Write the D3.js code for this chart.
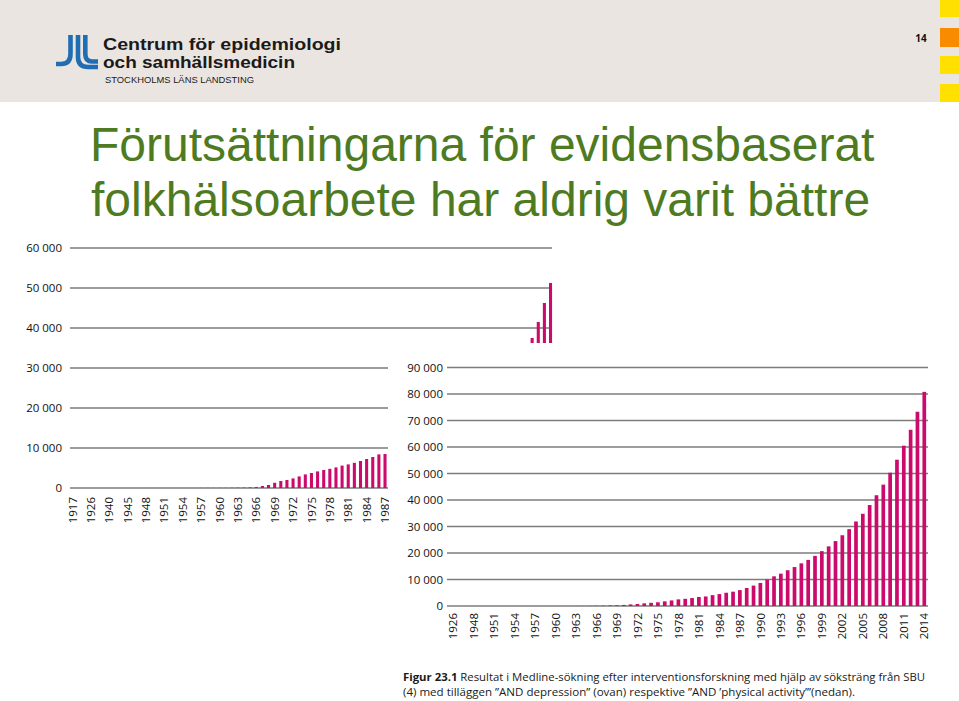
<!DOCTYPE html>
<html>
<head>
<meta charset="utf-8">
<script src="https://cdn.jsdelivr.net/npm/d3@7"></script>
<style>
  body { margin: 0; background: #fff; }
  svg { display: block; }
  .tick-label { font-family: "Open Sans", sans-serif; font-size: 11.5px; fill: #111; }
</style>
</head>
<body>
<svg id="slide" width="959" height="701"></svg>
<script>
// ---- data ----
// upper chart: "AND depression"
const topYears = [1917, 1920, 1923, 1926, 1930, 1935, 1940, 1942, 1944].concat(d3.range(1945, 2015));
const topValues = [
  1, 1, 1, 2, 2, 2, 3, 3, 4,
  5, 5, 6, 6, 8, 8, 10, 10, 12, 12, 15, 15, 20, 20, 25, 30, 35, 50,
  80, 100, 150, 250, 500, 750, 1300, 1750, 2000, 2400, 2900, 3400, 3750, 4150, 4500,
  4800, 5150, 5600, 5900, 6300, 6750, 7250, 7750, 8400, 8500,
  9000, 9500, 10100, 10700, 11300, 12000, 12800, 13600, 14500, 15400, 16300, 17300, 18400,
  19600, 20900, 22300, 23800, 25400, 27100, 29000, 31000, 33000, 35200, 37500, 41500, 46250, 51250
];
const topTicks = [0, 10000, 20000, 30000, 40000, 50000, 60000];
const topLabelYears = [1917, 1926, 1940, 1945, 1948, 1951, 1954, 1957, 1960, 1963, 1966,
  1969, 1972, 1975, 1978, 1981, 1984, 1987];

// lower chart: "AND 'physical activity'"
const bottomYears = [1926, 1946, 1947].concat(d3.range(1948, 2015));
const bottomValues = [
  1, 2, 3,
  3, 4, 4, 5, 5, 6, 6, 8, 8, 10, 10, 12, 15, 18, 20, 25,
  30, 50, 80, 120, 200, 250, 400, 600, 750, 1000, 1200, 1400, 1750, 2100, 2500, 2700,
  3000, 3400, 3600, 4100, 4500, 5000, 5400, 6000, 6800, 7700, 8700,
  10000, 11200, 12200, 13500, 14700, 16100, 17400, 18900, 20700, 22500, 24500, 26700,
  29000, 31900, 34800, 38100, 41800, 45800, 50300, 55200, 60500, 66500, 73300, 80800
];
const bottomTicks = [0, 10000, 20000, 30000, 40000, 50000, 60000, 70000, 80000, 90000];
const bottomLabelYears = [1926, 1948, 1951, 1954, 1957, 1960, 1963, 1966, 1969, 1972, 1975,
  1978, 1981, 1984, 1987, 1990, 1993, 1996, 1999, 2002, 2005, 2008, 2011, 2014];

const barColor = '#cc0a6c';
const gridColor = '#7d7d7d';
const fmt = d3.formatLocale({ decimal: ',', thousands: ' ', grouping: [3], currency: ['', ''] }).format(',d');

const svg = d3.select('#slide');

// ---- header band ----
svg.append('rect').attr('x', 0).attr('y', 0).attr('width', 959).attr('height', 102).attr('fill', '#ebe5e1');

const logo = svg.append('g').attr('fill', 'none').attr('stroke', '#1f6db2').attr('stroke-width', 4.6);
logo.append('path').attr('d', 'M70.5 35 V54 Q70.5 64 61 64 H56');
logo.append('path').attr('d', 'M78 35 V57 Q78 67 88 67 H98');
logo.append('path').attr('d', 'M85.3 35 V54 Q85.3 61.5 92 61.5 H98');

const logoFont = '"Liberation Sans", Arial, sans-serif';
svg.append('text').attr('x', 103).attr('y', 50)
  .attr('textLength', 238).attr('lengthAdjust', 'spacingAndGlyphs')
  .style('font-family', logoFont).style('font-weight', 700).style('font-size', '16px')
  .attr('fill', '#1a1a1a').text('Centrum för epidemiologi');
svg.append('text').attr('x', 103).attr('y', 68)
  .attr('textLength', 192).attr('lengthAdjust', 'spacingAndGlyphs')
  .style('font-family', logoFont).style('font-weight', 700).style('font-size', '16px')
  .attr('fill', '#1a1a1a').text('och samhällsmedicin');
svg.append('text').attr('x', 105).attr('y', 83)
  .attr('textLength', 149).attr('lengthAdjust', 'spacingAndGlyphs')
  .style('font-family', logoFont).style('font-size', '9px')
  .attr('fill', '#1a1a1a').text('STOCKHOLMS LÄNS LANDSTING');

svg.append('text').attr('x', 921).attr('y', 42).attr('text-anchor', 'middle')
  .style('font-family', '"Open Sans", sans-serif').style('font-weight', 700).style('font-size', '10px')
  .attr('fill', '#111').text('14');

// side squares
[[0, 17, '#ffe000'], [28, 19, '#f98b00'], [56, 18, '#ffe000'], [84, 18, '#ffe000']].forEach(s => {
  svg.append('rect').attr('x', 940).attr('y', s[0]).attr('width', 19).attr('height', s[1]).attr('fill', s[2]);
});

// ---- title ----
const title = svg.append('g').style('font-family', '"Liberation Sans", Arial, sans-serif')
  .style('font-size', '48px').attr('fill', '#4e7b22');
title.append('text').attr('x', 90).attr('y', 161).text('Förutsättningarna för evidensbaserat');
title.append('text').attr('x', 91).attr('y', 216).text('folkhälsoarbete har aldrig varit bättre');

// ---- upper chart ----
const topChart = svg.append('g');
const xTop = d3.scaleBand().domain(topYears).range([69.3, 553.6]).paddingInner(0.5).paddingOuter(0.25);
const yTop = d3.scaleLinear().domain([0, 60000]).range([488, 248]);

topChart.selectAll('.grid').data(topTicks).enter().append('line')
  .attr('class', 'grid')
  .attr('x1', 70).attr('x2', d => d > 30000 ? 552 : 388)
  .attr('y1', d => yTop(d)).attr('y2', d => yTop(d))
  .attr('stroke', gridColor).attr('stroke-width', 1.4);

topChart.selectAll('.ylab').data(topTicks).enter().append('text')
  .attr('class', 'tick-label ylab')
  .attr('x', 62).attr('y', d => yTop(d)).attr('dy', '0.35em').attr('text-anchor', 'end')
  .text(d => fmt(d));

topChart.selectAll('.bar').data(topYears).enter().append('rect')
  .attr('class', 'bar')
  .attr('x', d => xTop(d)).attr('width', xTop.bandwidth())
  .attr('y', (d, i) => yTop(topValues[i]))
  .attr('height', (d, i) => yTop(0) - yTop(topValues[i]))
  .attr('fill', barColor);

const xAxisTop = topChart.append('g').attr('transform', 'translate(0,488)')
  .call(d3.axisBottom(xTop).tickValues(topLabelYears).tickSize(0));
xAxisTop.select('.domain').remove();
xAxisTop.selectAll('text')
  .attr('class', 'tick-label')
  .attr('transform', 'rotate(-90)')
  .attr('x', -9).attr('y', 0).attr('dy', '0.36em')
  .style('text-anchor', 'end');

// ---- lower chart, drawn on a white panel over the upper one ----
svg.append('rect').attr('x', 389).attr('y', 343).attr('width', 570).attr('height', 305).attr('fill', '#fff');

const bottomChart = svg.append('g');
const xBottom = d3.scaleBand().domain(bottomYears).range([449.6, 927.7]).paddingInner(0.46).paddingOuter(0.23);
const yBottom = d3.scaleLinear().domain([0, 90000]).range([606, 367.5]);

bottomChart.selectAll('.grid').data(bottomTicks).enter().append('line')
  .attr('class', 'grid')
  .attr('x1', 447).attr('x2', 928)
  .attr('y1', d => yBottom(d)).attr('y2', d => yBottom(d))
  .attr('stroke', gridColor).attr('stroke-width', 1.4);

bottomChart.selectAll('.ylab').data(bottomTicks).enter().append('text')
  .attr('class', 'tick-label ylab')
  .attr('x', 443).attr('y', d => yBottom(d)).attr('dy', '0.35em').attr('text-anchor', 'end')
  .text(d => fmt(d));

bottomChart.selectAll('.bar').data(bottomYears).enter().append('rect')
  .attr('class', 'bar')
  .attr('x', d => xBottom(d)).attr('width', xBottom.bandwidth())
  .attr('y', (d, i) => yBottom(bottomValues[i]))
  .attr('height', (d, i) => yBottom(0) - yBottom(bottomValues[i]))
  .attr('fill', barColor);

const xAxisBottom = bottomChart.append('g').attr('transform', 'translate(0,606)')
  .call(d3.axisBottom(xBottom).tickValues(bottomLabelYears).tickSize(0));
xAxisBottom.select('.domain').remove();
xAxisBottom.selectAll('text')
  .attr('class', 'tick-label')
  .attr('transform', 'rotate(-90)')
  .attr('x', -7).attr('y', 0).attr('dy', '0.36em')
  .style('text-anchor', 'end');

// ---- caption ----
const cap = svg.append('g').style('font-family', '"Open Sans", sans-serif').style('font-size', '11px').attr('fill', '#1a1a1a');
const cap1 = cap.append('text').attr('x', 403).attr('y', 681)
  .attr('textLength', 522).attr('lengthAdjust', 'spacingAndGlyphs');
cap1.append('tspan').style('font-weight', 700).text('Figur 23.1');
cap1.append('tspan').text(' Resultat i Medline-sökning efter interventionsforskning med hjälp av söksträng från SBU');
cap.append('text').attr('x', 403).attr('y', 696)
  .attr('textLength', 452).attr('lengthAdjust', 'spacingAndGlyphs')
  .text('(4) med tilläggen ”AND depression” (ovan) respektive ”AND ’physical activity’”(nedan).');
</script>
</body>
</html>
